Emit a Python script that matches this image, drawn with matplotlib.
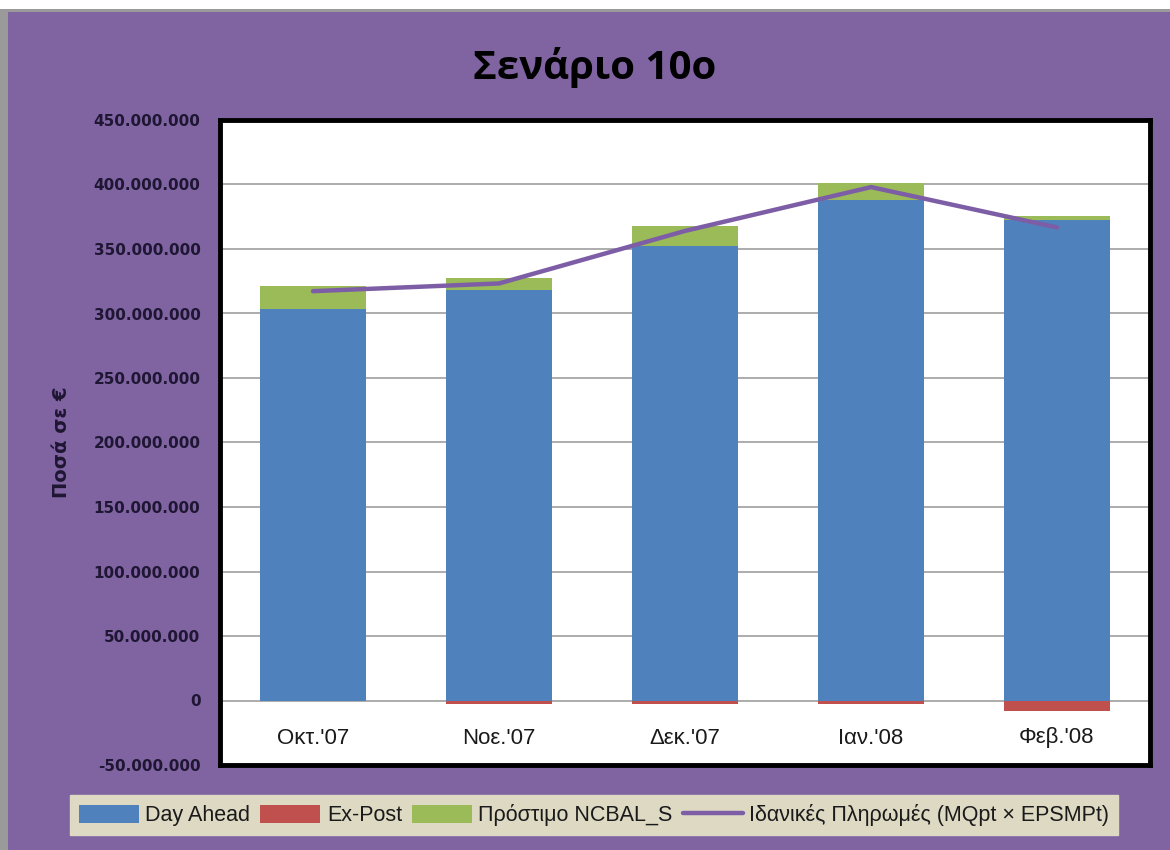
import matplotlib.pyplot as plt
import matplotlib.patches as mpatches
import matplotlib.ticker as mticker
import numpy as np

# Data (values in euro)
months = ["Οκτ.'07", "Νοε.'07", "Δεκ.'07", "Ιαν.'08", "Φεβ.'08"]
day_ahead = [303.3e6, 318.1e6, 352.1e6, 388.1e6, 372.8e6]
ex_post = [-0.6e6, -3.1e6, -3.0e6, -3.0e6, -8.3e6]
penalty = [17.9e6, 9.1e6, 16.0e6, 13.0e6, 3.1e6]
ideal = [317.3e6, 323.3e6, 364.0e6, 398.0e6, 366.7e6]

purple_bg = '#8064a2'
blue = '#4f81bd'
red = '#c0504d'
green = '#9bbb59'
line_col = '#7d5ea6'

fig = plt.figure(figsize=(11.7, 8.5), dpi=100, facecolor=purple_bg)

# screenshot edges (white strip on top, grey rims)
fig.patches.append(mpatches.Rectangle((0, 1 - 9 / 850), 1, 9 / 850, transform=fig.transFigure,
                                      facecolor='white', edgecolor='none', zorder=0))
fig.patches.append(mpatches.Rectangle((0, 1 - 12 / 850), 1, 3 / 850, transform=fig.transFigure,
                                      facecolor='#9a9a9a', edgecolor='none', zorder=0))
fig.patches.append(mpatches.Rectangle((0, 0), 8 / 1170, 1 - 9 / 850, transform=fig.transFigure,
                                      facecolor='#9a9a9a', edgecolor='none', zorder=0))

ax = fig.add_axes([220 / 1170, 1 - 765 / 850, 930 / 1170, 645 / 850])
ax.set_facecolor('white')

x = np.arange(len(months))
w = 0.565
h_da = ax.bar(x, day_ahead, w, color=blue, label='Day Ahead', zorder=2)
h_ep = ax.bar(x, ex_post, w, color=red, label='Ex-Post', zorder=2)
h_pn = ax.bar(x, penalty, w, bottom=day_ahead, color=green, label='Πρόστιμο NCBAL_S', zorder=2)
h_id, = ax.plot(x, ideal, color=line_col, lw=3.2, solid_capstyle='round',
                label='Ιδανικές Πληρωμές (MQpt × EPSMPt)', zorder=3)

ax.set_xlim(-0.5, len(months) - 0.5)
ax.set_ylim(-50e6, 450e6)
ax.yaxis.set_major_locator(mticker.MultipleLocator(50e6))
ax.yaxis.set_major_formatter(mticker.FuncFormatter(lambda v, p: f"{v:,.0f}".replace(',', '.')))
ax.grid(axis='y', color='#a6a6a6', lw=1.3)
ax.set_axisbelow(True)

ax.set_xticks(x)
ax.set_xticklabels(months, fontsize=16, family='Liberation Sans', color='#1a1a1a')
ax.tick_params(axis='x', length=0, pad=-27)
ax.tick_params(axis='y', length=0, pad=14, labelsize=11, labelcolor='#1e1633')
for lbl in ax.get_yticklabels():
    lbl.set_fontweight('bold')

for s in ax.spines.values():
    s.set_linewidth(3.5)
    s.set_color('black')

ax.set_ylabel('Ποσά σε €', fontsize=14, fontweight='bold', color='#1e1633', labelpad=16)

fig.text(595 / 1170, 1 - 68 / 850, 'Σενάριο 10ο', ha='center', va='center',
         fontsize=29, fontweight='bold', family='Open Sans', color='black')

leg = fig.legend([h_da, h_ep, h_pn, h_id],
                 ['Day Ahead', 'Ex-Post', 'Πρόστιμο NCBAL_S', 'Ιδανικές Πληρωμές (MQpt × EPSMPt)'],
                 loc='center', bbox_to_anchor=(594 / 1170, 1 - 815 / 850), ncol=4,
                 frameon=True, fancybox=False, handlelength=2.8,
                 handleheight=0.9, columnspacing=0.45, handletextpad=0.3,
                 borderpad=0.4, borderaxespad=0, prop={'family': 'Liberation Sans', 'size': 15.5})
leg.get_frame().set_facecolor('#ddd9c3')
leg.get_frame().set_edgecolor('#ddd9c3')
leg.get_frame().set_alpha(1)
for t in leg.get_texts():
    t.set_color('#1a1a1a')

fig.savefig('out.png', dpi=100, facecolor=fig.get_facecolor())
